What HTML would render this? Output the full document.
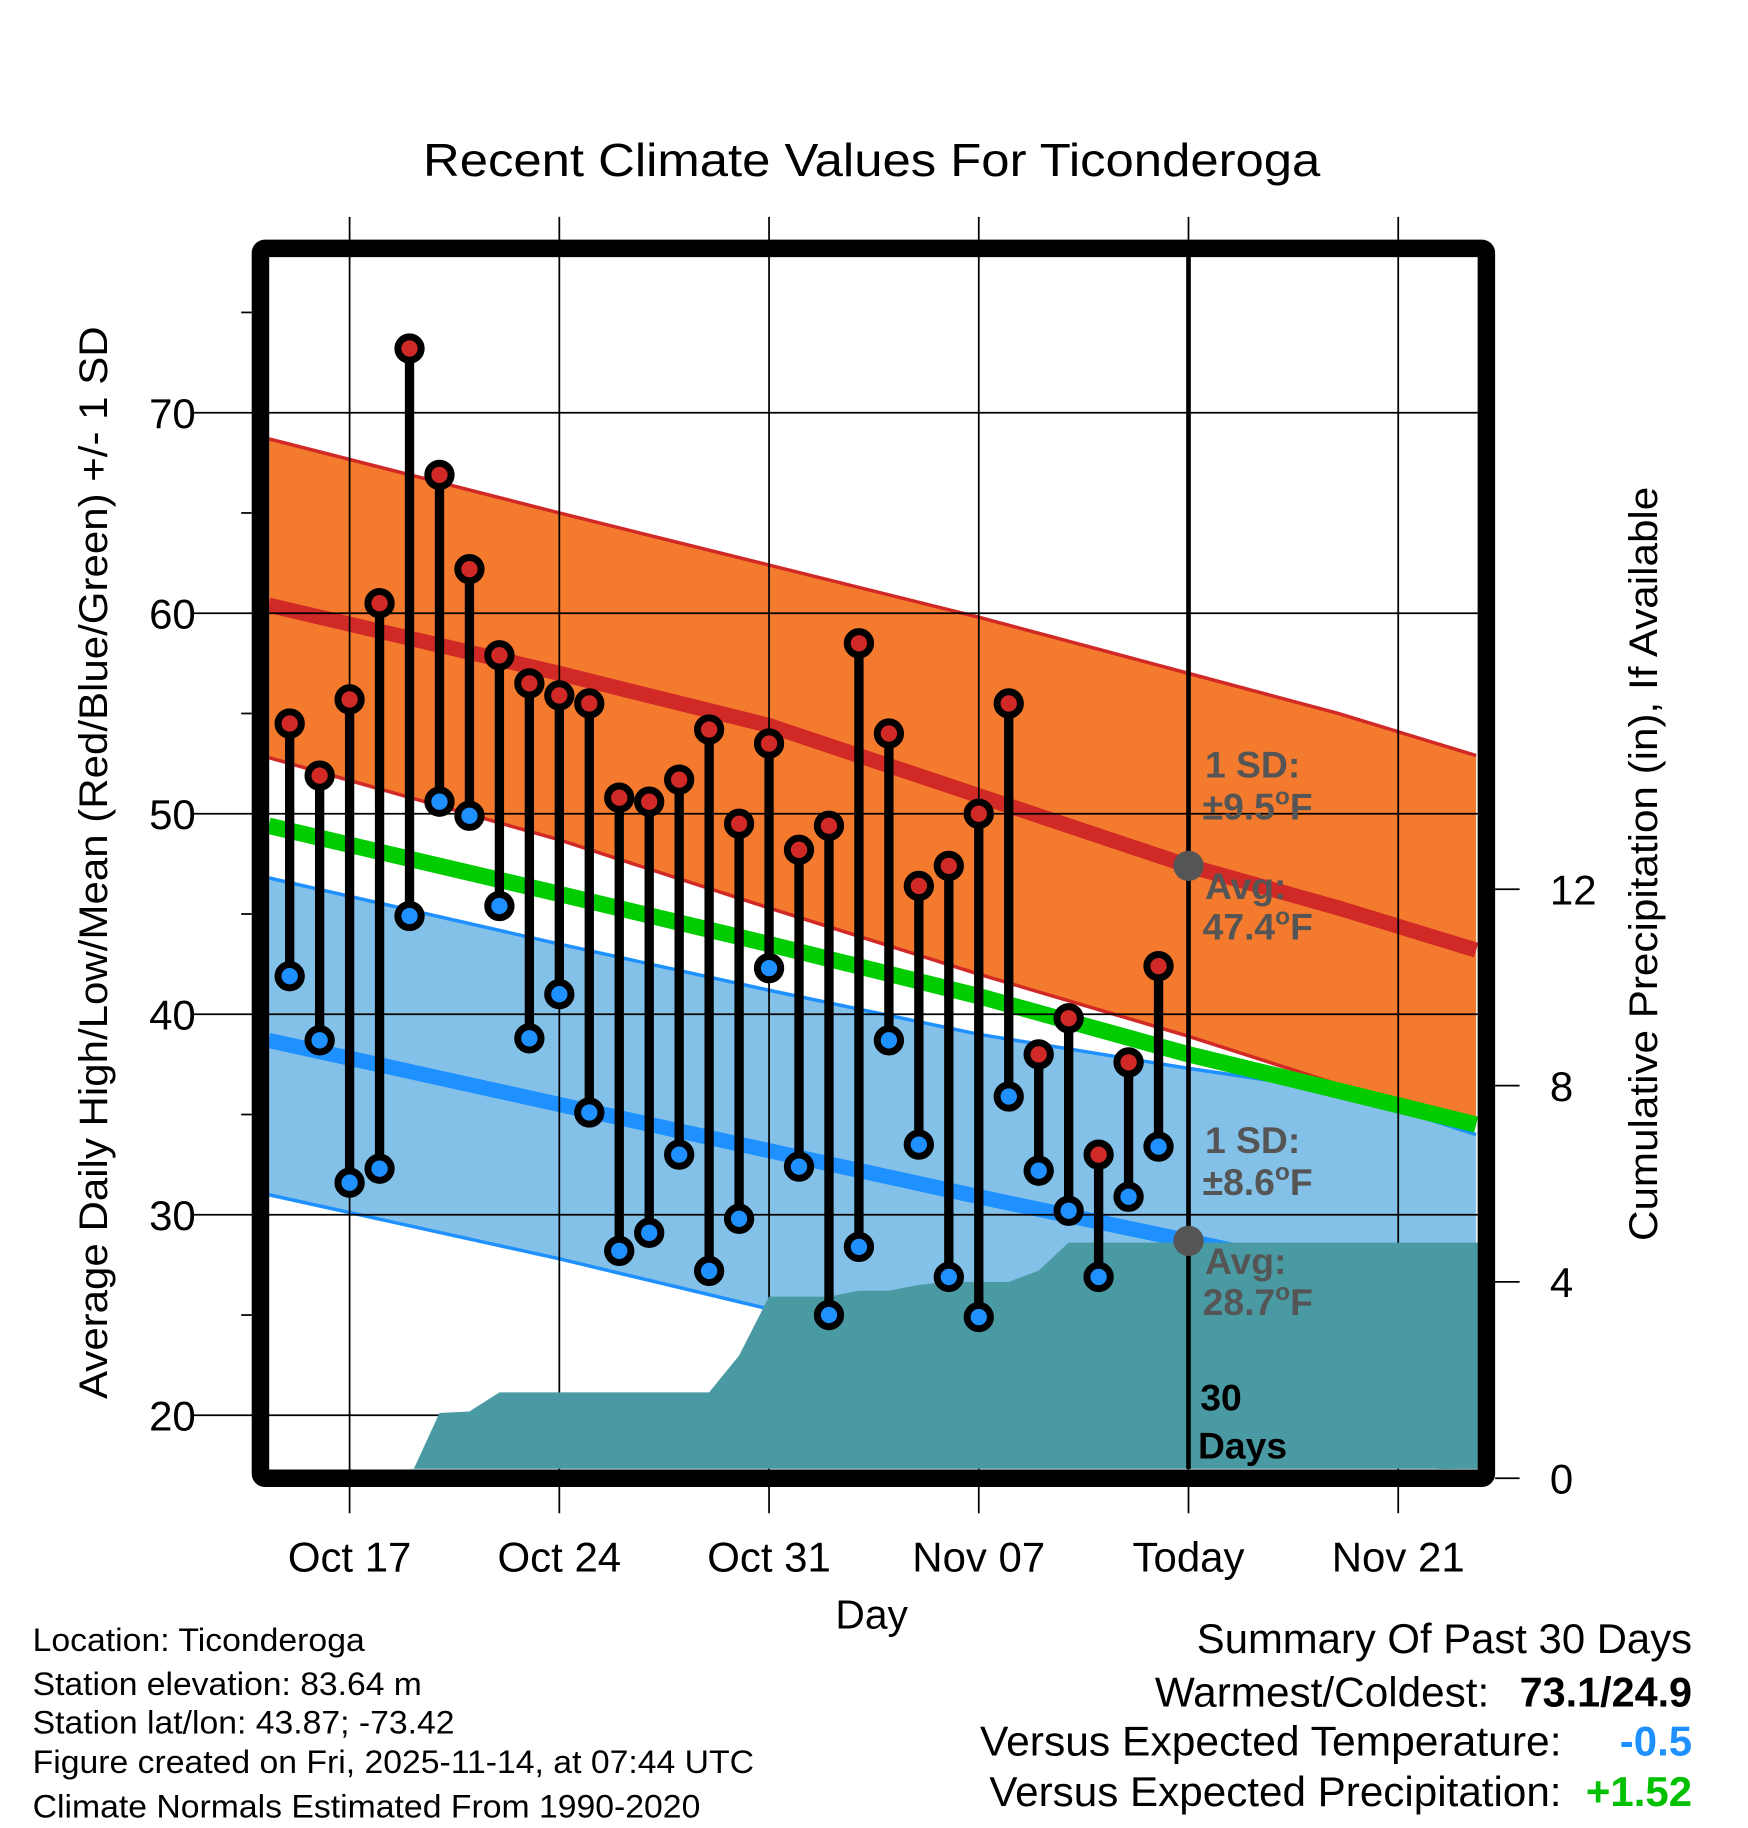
<!DOCTYPE html>
<html><head><meta charset="utf-8"><style>
html,body{margin:0;padding:0;background:#fff}
svg{display:block}
text{font-family:"Liberation Sans",Arial,sans-serif}
</style></head><body>
<svg id="chart" width="1748" height="1828" viewBox="0 0 1500 1568" preserveAspectRatio="none" xmlns="http://www.w3.org/2000/svg">
<g id="bands"></g>
<g id="grid"></g>
<g id="precip"></g>
<g id="stems"></g>
<g id="ann"></g>
<g id="frame"></g>
<g id="axes"></g>
<text x="748" y="151" font-size="40" text-anchor="middle" textLength="770" lengthAdjust="spacingAndGlyphs">Recent Climate Values For Ticonderoga</text>
<text transform="translate(92,740) rotate(-90)" font-size="34" text-anchor="middle" textLength="920" lengthAdjust="spacingAndGlyphs">Average Daily High/Low/Mean (Red/Blue/Green) +/- 1 SD</text>
<text transform="translate(1422,741) rotate(-90)" font-size="34" text-anchor="middle" textLength="647" lengthAdjust="spacingAndGlyphs">Cumulative Precipitation (in), If Available</text>
<text x="748" y="1397" font-size="35" text-anchor="middle">Day</text>
<g font-size="28">
<text x="28" y="1416" textLength="285" lengthAdjust="spacingAndGlyphs">Location: Ticonderoga</text>
<text x="28" y="1454" textLength="334" lengthAdjust="spacingAndGlyphs">Station elevation: 83.64 m</text>
<text x="28" y="1487" textLength="362" lengthAdjust="spacingAndGlyphs">Station lat/lon: 43.87; -73.42</text>
<text x="28" y="1521" textLength="619" lengthAdjust="spacingAndGlyphs">Figure created on Fri, 2025-11-14, at 07:44 UTC</text>
<text x="28" y="1559" textLength="573" lengthAdjust="spacingAndGlyphs">Climate Normals Estimated From 1990-2020</text>
</g>
<g font-size="36" text-anchor="end">
<text x="1452" y="1418" textLength="425" lengthAdjust="spacingAndGlyphs">Summary Of Past 30 Days</text>
<text x="1278" y="1464" textLength="287" lengthAdjust="spacingAndGlyphs">Warmest/Coldest:</text>
<text x="1452" y="1464" font-weight="bold" textLength="148" lengthAdjust="spacingAndGlyphs">73.1/24.9</text>
<text x="1340" y="1506" textLength="499" lengthAdjust="spacingAndGlyphs">Versus Expected Temperature:</text>
<text x="1452" y="1506" font-weight="bold" fill="#1e90ff">-0.5</text>
<text x="1340" y="1549" textLength="491" lengthAdjust="spacingAndGlyphs">Versus Expected Precipitation:</text>
<text x="1452" y="1549" font-weight="bold" fill="#00c000">+1.52</text>
</g>
</svg>
<script>
// ---- data ----
const highs = [54.5,51.9,55.7,60.5,73.2,66.9,62.2,57.9,56.5,55.9,55.5,50.8,50.6,51.7,54.2,49.5,53.5,48.2,49.4,58.5,54.0,46.4,47.4,50.0,55.5,38.0,39.8,33.0,37.6,42.4];
const lows  = [41.9,38.7,31.6,32.3,44.9,50.6,49.9,45.4,38.8,41.0,35.1,28.2,29.1,33.0,27.2,29.8,42.3,32.4,25.0,28.4,38.7,33.5,26.9,24.9,35.9,32.2,30.2,26.9,30.9,33.4];
const firstDay = -2; // Oct 15 relative to Oct 17
const normDays   = [-2.7,7,14,21,28,33,37.6];
const hiUpper    = [68.7,65.0,62.4,59.8,57.0,55.0,52.9];
const normHigh   = [60.4,57.0,54.4,50.9,47.4,45.3,43.2];
const hiLower    = [52.8,48.7,45.3,42.0,38.9,36.5,34.8];
const normMean   = [49.4,46.0,43.5,40.9,38.0,36.2,34.5];
const loUpper    = [46.8,43.5,41.2,39.0,37.3,36.2,34.0];
const normLow    = [38.7,35.5,33.2,30.9,28.7,27.1,25.6];
const loLower    = [31.0,27.8,25.3,22.6,20.0,18.5,17.0];
const precipDays = [2,3,4,5,12,13,14,16,17,18,19,20,22,23,24,37.8];
const precipVals = [0,1.33,1.36,1.75,1.75,2.5,3.7,3.7,3.82,3.82,3.94,4.0,4.0,4.23,4.8,4.8];
const xTickDays  = [0,7,14,21,28,35];
const xTickLabels= ["Oct 17","Oct 24","Oct 31","Nov 07","Today","Nov 21"];
const yTicks     = [20,30,40,50,60,70];
const y2Ticks    = [0,4,8,12];
// ---- scales ----
const L=231,R=1268,T=220,B=1260;
const X=d=>300+d*25.71;
const Y=v=>354+(70-v)*17.2;
const Y2=p=>1268-p*42.1;
const NS="http://www.w3.org/2000/svg";
function mk(tag,attrs,parent){const e=document.createElementNS(NS,tag);for(const k in attrs)e.setAttribute(k,attrs[k]);parent.appendChild(e);return e;}
const bands=document.getElementById('bands'),grid=document.getElementById('grid'),precip=document.getElementById('precip'),stems=document.getElementById('stems'),ann=document.getElementById('ann'),frame=document.getElementById('frame'),axes=document.getElementById('axes');
function line(arr){return normDays.map((d,i)=>X(d).toFixed(1)+','+Y(arr[i]).toFixed(1));}
function band(up,lo,fill,parent,name){
  const pts=line(up).concat(line(lo).reverse());
  const p=mk('polygon',{points:pts.join(' '),fill:fill},parent);
  
  
}
function pl(arr,stroke,w,name){
  const p=mk('polyline',{points:line(arr).join(' '),fill:'none',stroke:stroke,'stroke-width':w},bands);
  
  
}
const cp=mk('clipPath',{id:'pc'},document.getElementById('chart'));mk('rect',{x:L,y:T,width:R-L,height:B-T},cp);
bands.setAttribute('clip-path','url(#pc)');precip.setAttribute('clip-path','url(#pc)');
band(hiUpper,hiLower,'#f47a2e',bands,'high-sd-band');
pl(hiUpper,'#d12a26',3,'high-sd-upper-edge');pl(hiLower,'#d12a26',3,'high-sd-lower-edge');
band(loUpper,loLower,'#83c1e8',bands,'low-sd-band');
pl(loUpper,'#1e90ff',3,'low-sd-upper-edge');pl(loLower,'#1e90ff',3,'low-sd-lower-edge');
pl(normMean,'#00cc00',14,'normal-mean-line');
pl(normHigh,'#d12a26',13,'normal-high-line');
pl(normLow,'#1e90ff',13,'normal-low-line');
// grid
xTickDays.forEach((d,i)=>{
  const g=mk('line',{x1:X(d),x2:X(d),y1:186,y2:1298,stroke:'#000','stroke-width':1.5},grid);
  
  
  const t=mk('text',{x:X(d),y:1348,'font-size':36,'text-anchor':'middle'},axes);t.textContent=xTickLabels[i];
  
  
});
yTicks.forEach(v=>{
  const g=mk('line',{x1:165,x2:R,y1:Y(v),y2:Y(v),stroke:'#000','stroke-width':1.5},grid);
  
  
  const t=mk('text',{x:168,y:Y(v)+13,'font-size':36,'text-anchor':'end'},axes);t.textContent=v;
  
  
});
for(let v=25;v<=75;v+=10){const m=mk('line',{x1:207,x2:216,y1:Y(v),y2:Y(v),stroke:'#000','stroke-width':1.5},axes);
  
  }
y2Ticks.forEach(p=>{
  const m=mk('line',{x1:1283,x2:1304,y1:Y2(p),y2:Y2(p),stroke:'#000','stroke-width':1.5},axes);
  
  
  const t=mk('text',{x:1330,y:Y2(p)+13,'font-size':36},axes);t.textContent=p;
  
  
});
// precip
{
  const pts=precipDays.map((d,i)=>X(d).toFixed(1)+','+Y2(precipVals[i]).toFixed(1));
  pts.push(X(precipDays[precipDays.length-1]).toFixed(1)+','+B,X(precipDays[0]).toFixed(1)+','+B);
  const p=mk('polygon',{points:pts.join(' '),fill:'#4a9aa3'},precip);
  
  
}
// stems and dots
highs.forEach((h,i)=>{
  const x=X(firstDay+i),lo=lows[i];
  const s=mk('line',{x1:x,x2:x,y1:Y(h),y2:Y(lo),stroke:'#000','stroke-width':8},stems);
  
  
  const a=mk('circle',{cx:x,cy:Y(h),r:10,fill:'#d12a26',stroke:'#000','stroke-width':6},stems);
  
  
  const b=mk('circle',{cx:x,cy:Y(lo),r:10,fill:'#1e90ff',stroke:'#000','stroke-width':6},stems);
  
  
});
// today line & annotations
const tx=X(28);
{const t=mk('line',{x1:tx,x2:tx,y1:T,y2:B,stroke:'#000','stroke-width':4},ann);
 
 
 const d1=mk('circle',{cx:tx,cy:Y(47.4),r:13,fill:'#555'},ann);
 
 
 const d2=mk('circle',{cx:tx,cy:Y(28.7),r:13,fill:'#555'},ann);
 
 }
function lab(x,y,html,fill,name){const t=mk('text',{x:x,y:y,'font-size':32,'font-weight':'bold',fill:fill},ann);t.innerHTML=html;
  
  }
const deg='<tspan dy="-13" font-size="21">o</tspan><tspan dy="13">F</tspan>';
lab(1034,667,'1 SD:','#555','high-sd-label');
lab(1032,703,'±9.5'+deg,'#555','high-sd-value');
lab(1034,771,'Avg:','#555','high-avg-label');
lab(1032,806,'47.4'+deg,'#555','high-avg-value');
lab(1034,989,'1 SD:','#555','low-sd-label');
lab(1032,1025,'±8.6'+deg,'#555','low-sd-value');
lab(1034,1093,'Avg:','#555','low-avg-label');
lab(1032,1128,'28.7'+deg,'#555','low-avg-value');
lab(1030,1210,'30','#000','days-count');
lab(1028,1251,'Days','#000','days-label');
// frame
{const f=mk('rect',{x:223.5,y:213,width:1052,height:1055,fill:'none',stroke:'#000','stroke-width':15,rx:4},frame);
 
 }
</script>
</body></html>
